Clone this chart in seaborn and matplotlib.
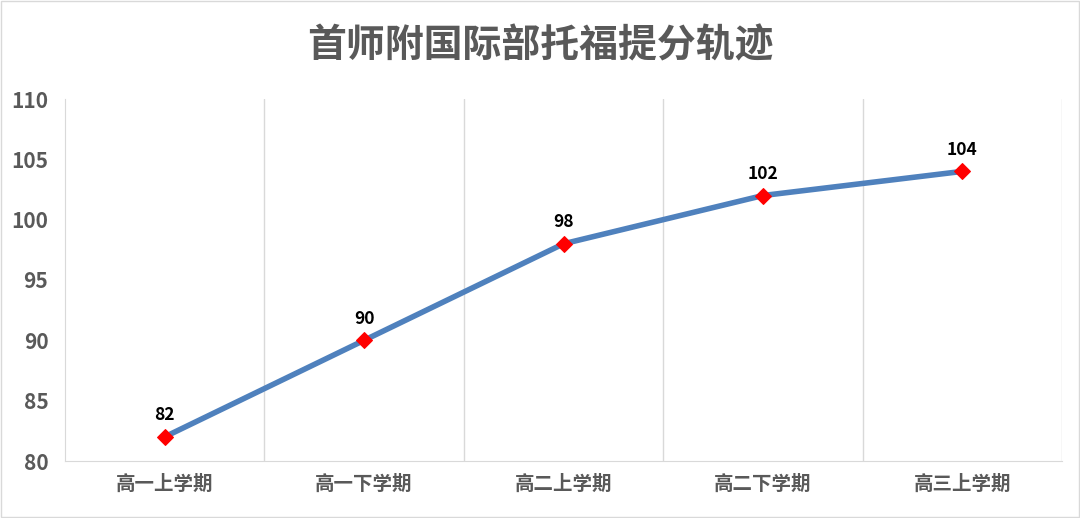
import matplotlib
matplotlib.use("Agg")
import matplotlib.pyplot as plt
import seaborn as sns
import pandas as pd
import numpy as np

categories = ["高一上学期", "高一下学期", "高二上学期", "高二下学期", "高三上学期"]
scores = [82, 90, 98, 102, 104]
yticks = [80, 85, 90, 95, 100, 105, 110]

sns.set_style("white")
plt.rcParams['font.family'] = ['Noto Sans CJK SC', 'DejaVu Sans']

fig = plt.figure(figsize=(10.8, 5.18), dpi=100)
ax = fig.add_axes([65/1080, 1-461/518, (1062-65)/1080, (461-99)/518])
df = pd.DataFrame({"x": np.arange(len(categories)), "y": scores})
sns.lineplot(data=df, x="x", y="y", ax=ax, color="#4F81BD", linewidth=4,
             marker="D", markersize=8, markerfacecolor="#FF0000", markeredgecolor="#FF0000")
for xi, yi in zip(df.x, df.y):
    ax.annotate(str(yi), (xi, yi), xytext=(0, 9), textcoords="offset points",
                ha="center", va="bottom", fontsize=12.5, fontweight="bold", color="black")
ax.set_xlim(-0.5, len(categories) - 0.5)
ax.set_ylim(80, 110)
ax.set_yticks(yticks)
ax.set_yticklabels([str(t) for t in yticks], fontsize=15, fontweight="bold", color="#595959")
ax.set_xticks(df.x)
ax.set_xticklabels(categories, fontsize=14, fontweight="bold", color="#595959")
ax.tick_params(axis="y", length=0, pad=12)
ax.tick_params(axis="x", length=0, pad=10)
for b in np.arange(0.5, len(categories) - 0.5, 1):
    ax.axvline(b, color="#D9D9D9", linewidth=1, zorder=0)
ax.axvline(len(categories) - 0.5, color="#D9D9D9", linewidth=1, zorder=0)
for s in ["top", "right"]:
    ax.spines[s].set_visible(False)
ax.spines["left"].set_color("#D9D9D9")
ax.spines["bottom"].set_color("#D9D9D9")
ax.set_xlabel("")
ax.set_ylabel("")
fig.text(0.5, 1-46/518, "首师附国际部托福提分轨迹", ha="center", va="center",
         fontsize=28, fontweight="bold", color="#595959")
fig.patches.append(plt.Rectangle((0.001, 0.001), 0.998, 0.998, transform=fig.transFigure,
                                 fill=False, edgecolor="#D9D9D9", linewidth=1))
fig.savefig("out.png", dpi=100)
